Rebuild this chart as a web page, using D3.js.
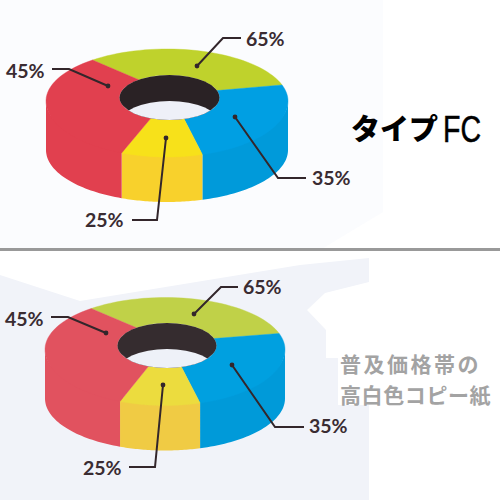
<!DOCTYPE html>
<html><head><meta charset="utf-8">
<style>html,body{margin:0;padding:0;background:#fff}svg{display:block}</style>
<script src="https://cdn.jsdelivr.net/npm/d3@7"></script></head>
<body><svg id="c" width="500" height="500"></svg>
<script>
// Data
const categories = ["green","blue","yellow","red"];
const sliceSweepDeg = [110,91,39,120];
const upperLabels = ["65%","35%","25%","45%"];
const lowerLabels = ["65%","35%","25%","45%"];
const upperTop = ["#bfd22c","#009fe3","#f7e11a","#e1404f"];
const upperSide = ["#a9bb20","#009ada","#f8d12c","#e1404f"];
const lowerTop = ["#c0d148","#00a0e0","#ecdc3e","#e1525f"];
const lowerSide = ["#a9b93c","#009ad9","#f0cb44","#e1525f"];
const upperTitle = ["タイプ","FC"];
const lowerTitle = ["普及価格帯の","高白色コピー紙"];

const svg = d3.select("#c");
const rad = d => d*Math.PI/180;
const pie = d3.pie().sort(null).startAngle(rad(-38)).endAngle(rad(322));
const arcs = pie(sliceSweepDeg);

// Pale paper shading behind the charts
const bg = svg.append("g");
bg.append("path").attr("d","M0,0H383V212L320,250H0Z").attr("fill","#fbfcfe");
bg.append("path").attr("d","M0,275L80,301L300,265L369,258V282L325,293L307,310L326,330V358H338V405H369V500H0Z").attr("fill","#f1f3f9");
bg.append("rect").attr("y",248).attr("width",500).attr("height",3).attr("fill","#999");

function panel(o){
  const g = svg.append("g");
  const X = t => o.cx + o.rx*Math.sin(t);
  const yTop = t => { const c=Math.cos(t); return o.cy - (c>0?o.ry:o.ryFront)*c; };
  const yBot = t => o.cy + o.depth - o.ry*Math.cos(t);
  const ix = t => o.hx + o.hrx*Math.sin(t);
  const iy = t => o.hy - o.hry*Math.cos(t);
  const line = d3.line();
  const steps = (a,b) => d3.range(0,41).map(i=>a+(b-a)*i/40);
  // side wall, front half only; its top edge runs under the ring so no seam shows
  arcs.forEach(a=>{
    const s=Math.max(a.startAngle,Math.PI/2), e=Math.min(a.endAngle,Math.PI*1.5);
    if(e<=s) return;
    const ts=steps(s,e);
    g.append("path").attr("fill",o.side[a.index])
     .attr("d",line(ts.map(t=>[X(t),yTop(t)-4*Math.abs(Math.cos(t))]).concat(ts.slice().reverse().map(t=>[X(t),yBot(t)])))+"Z");
  });
  // top ring
  arcs.forEach(a=>{
    const ts=steps(a.startAngle,a.endAngle);
    g.append("path").attr("fill",o.top[a.index]).attr("stroke",o.top[a.index]).attr("stroke-width",.4)
     .attr("d",line(ts.map(t=>[X(t),yTop(t)]).concat(ts.slice().reverse().map(t=>[ix(t),iy(t)])))+"Z");
  });
  // hole
  const id="h"+o.id;
  g.append("clipPath").attr("id",id).append("ellipse").attr("cx",o.hx).attr("cy",o.hy).attr("rx",o.hrx).attr("ry",o.hry);
  g.append("ellipse").attr("cx",o.hx).attr("cy",o.hy).attr("rx",o.hrx).attr("ry",o.hry).attr("fill",o.hole);
  g.append("ellipse").attr("clip-path",`url(#${id})`).attr("cx",o.hx).attr("cy",o.hy+26).attr("rx",o.hrx).attr("ry",o.hry).attr("fill",o.through);
  // leaders and labels
  o.leaders.forEach((l,i)=>{
    g.append("path").attr("d",line(l.pts)).attr("fill","none").attr("stroke","#33262b").attr("stroke-width",2);
    g.append("circle").attr("cx",l.pts[0][0]).attr("cy",l.pts[0][1]).attr("r",2.4).attr("fill","#33262b");
    g.append("text").attr("x",l.tx).attr("y",l.ty).attr("dy","0.35em").text(o.labels[i])
     .attr("font-family","Lato").attr("font-weight",700).attr("font-size",19.5).attr("fill","#3a2c32");
  });
}
panel({id:1,cx:167,cy:101,rx:121,ry:52,ryFront:56,depth:49,hx:169.5,hy:97.5,hrx:50,hry:22.5,
  top:upperTop,side:upperSide,hole:"#2a2225",through:"#eef0f8",labels:upperLabels,
  leaders:[
   {pts:[[197,66],[223,38],[241,38]],tx:246,ty:39},
   {pts:[[235,117],[278,178],[306,178]],tx:312,ty:178},
   {pts:[[166,138],[157,220],[132,220]],tx:85,ty:220},
   {pts:[[108,86],[69,69],[52,69]],tx:6,ty:71}]});
panel({id:2,cx:165,cy:349.5,rx:120,ry:52,ryFront:56,depth:49,hx:167,hy:345.5,hrx:49.5,hry:22.5,
  top:lowerTop,side:lowerSide,hole:"#352c2f",through:"#eef1f8",labels:lowerLabels,
  leaders:[
   {pts:[[194,314],[221,287],[238,287]],tx:243,ty:287},
   {pts:[[232,365],[275,427],[304,427]],tx:309,ty:426},
   {pts:[[163,385],[155,467],[129,467]],tx:83,ty:468},
   {pts:[[106,333],[68,317],[51,317]],tx:5,ty:319}]});

// Titles
svg.append("text").attr("x",351).attr("y",140).attr("fill","#000").text(upperTitle[0])
  .attr("font-family","Noto Sans CJK JP").attr("font-weight",900).attr("font-size",29);
svg.append("text").attr("x",443).attr("y",142).attr("fill","#000").text(upperTitle[1])
  .attr("font-family","Liberation Sans").attr("font-size",37).attr("stroke","#000").attr("stroke-width",.5)
  .attr("textLength",38).attr("lengthAdjust","spacingAndGlyphs");
lowerTitle.forEach((s,i)=>svg.append("text").attr("x",340).attr("y",[372,403][i]).text(s)
  .attr("font-family","Noto Sans CJK JP").attr("font-weight",700).attr("font-size",21)
  .attr("letter-spacing",[2.5,0.6][i]).attr("fill","#a3a3a3"));
</script></body></html>
